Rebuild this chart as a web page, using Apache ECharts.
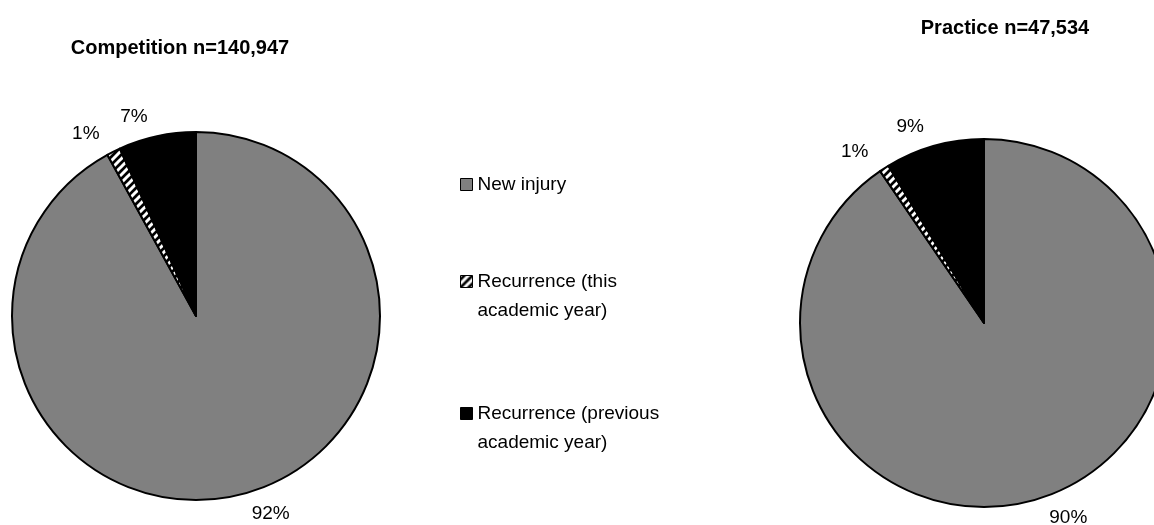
<!DOCTYPE html>
<html>
<head>
<meta charset="utf-8">
<script src="https://cdn.jsdelivr.net/npm/echarts@6/dist/echarts.min.js"></script>
<style>
  html, body { margin: 0; padding: 0; background: #fff; }
  #main { width: 1154px; height: 525px; }
</style>
</head>
<body>
<div id="main"></div>
<script>
// data
var categories = ['New injury', 'Recurrence (this academic year)', 'Recurrence (previous academic year)'];
var competitionValues = [92.0, 1.2, 6.8];
var practiceValues = [90.45, 0.85, 8.7];
var competitionTitle = 'Competition n=140,947';
var practiceTitle = 'Practice n=47,534';
// leading blank line keeps the legend square level with the first text line
var legendLabels = ['New injury', '\nRecurrence (this\nacademic year)', '\nRecurrence (previous\nacademic year)'];

// hatch pattern for the "this year" slice
var hatch = document.createElement('canvas');
hatch.width = 8;
hatch.height = 8;
var ctx = hatch.getContext('2d');
ctx.fillStyle = '#000';
ctx.fillRect(0, 0, 8, 8);
ctx.strokeStyle = '#fff';
ctx.lineWidth = 3;
ctx.beginPath();
ctx.moveTo(-2, 10); ctx.lineTo(10, -2);
ctx.moveTo(-6, 6); ctx.lineTo(6, -6);
ctx.moveTo(2, 14); ctx.lineTo(14, 2);
ctx.stroke();

var colors = ['#808080', { image: hatch, repeat: 'repeat' }, '#000000'];
var fontFamily = '"Liberation Sans", Arial, sans-serif';

function makeData(values) {
    return categories.map(function (name, i) {
        return { name: name, value: values[i], itemStyle: { color: colors[i] } };
    });
}

function pieSeries(name, center, values) {
    return {
        name: name,
        type: 'pie',
        center: center,
        radius: 184,
        startAngle: 90,
        clockwise: true,
        avoidLabelOverlap: false,
        silent: true,
        itemStyle: { borderColor: '#000', borderWidth: 2 },
        label: {
            show: true,
            position: 'outside',
            formatter: function (p) { return Math.round(p.value) + '%'; },
            color: '#000',
            fontSize: 19,
            fontFamily: fontFamily
        },
        labelLine: { show: false, length: 20, length2: 0 },
        data: makeData(values)
    };
}

var legendTops = [165, 233, 365];
var legends = categories.map(function (name, i) {
    return {
        left: 455,
        top: legendTops[i],
        orient: 'vertical',
        selectedMode: false,
        itemWidth: 12,
        itemHeight: 12,
        icon: 'rect',
        itemStyle: { borderColor: '#000', borderWidth: 1 },
        formatter: function () { return legendLabels[i]; },
        textStyle: {
            color: '#000',
            fontSize: 19,
            fontFamily: fontFamily,
            lineHeight: 29
        },
        data: [name]
    };
});

var option = {
    backgroundColor: '#fff',
    animation: false,
    title: [
        {
            text: competitionTitle,
            left: 175, top: 33,
            textAlign: 'center',
            textStyle: { fontSize: 20, fontWeight: 'bold', color: '#000', fontFamily: fontFamily }
        },
        {
            text: practiceTitle,
            left: 1000, top: 13,
            textAlign: 'center',
            textStyle: { fontSize: 20, fontWeight: 'bold', color: '#000', fontFamily: fontFamily }
        }
    ],
    legend: legends,
    series: [
        pieSeries('Competition', [196, 316], competitionValues),
        pieSeries('Practice', [984, 323], practiceValues)
    ]
};

var chartDom = document.getElementById('main');
var myChart = echarts.init(chartDom);
myChart.setOption(option);
</script>
</body>
</html>
